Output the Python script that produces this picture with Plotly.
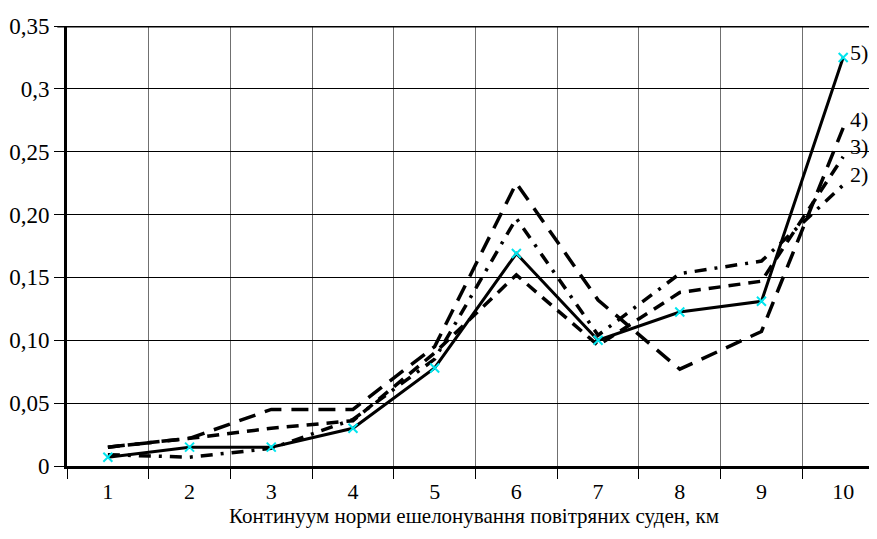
import plotly.graph_objects as go

x_vals = [1, 2, 3, 4, 5, 6, 7, 8, 9, 10]
x_labels = ["1", "2", "3", "4", "5", "6", "7", "8", "9", "10"]

series_5 = [0.007, 0.015, 0.015, 0.030, 0.078, 0.169, 0.100, 0.1225, 0.131, 0.325]
series_4 = [0.015, 0.022, 0.045, 0.045, 0.095, 0.225, 0.132, 0.077, 0.107, 0.269]
series_3 = [0.015, 0.022, 0.030, 0.036, 0.090, 0.152, 0.096, 0.138, 0.147, 0.246]
series_2 = [0.009, 0.007, 0.014, 0.037, 0.085, 0.197, 0.104, 0.153, 0.163, 0.2235]

y_tickvals = [0, 0.05, 0.10, 0.15, 0.20, 0.25, 0.30, 0.35]
y_ticktext = ["0", "0,05", "0,10", "0,15", "0,20", "0,25", "0,3", "0,35"]

end_labels = ["5)", "4)", "3)", "2)"]
end_label_y = [0.3286, 0.276, 0.254, 0.232]

x_title = "Континуум норми ешелонування повітряних суден, км"

FONT = "Liberation Serif"

fig = go.Figure()

fig.add_trace(go.Scatter(x=x_vals, y=series_2, mode="lines",
                         line=dict(color="black", width=3.5, dash="12px,8px,3px,8px"),
                         showlegend=False))
fig.add_trace(go.Scatter(x=x_vals, y=series_3, mode="lines",
                         line=dict(color="black", width=3.5, dash="12px,8px"),
                         showlegend=False))
fig.add_trace(go.Scatter(x=x_vals, y=series_4, mode="lines",
                         line=dict(color="black", width=3.5, dash="17px,10px"),
                         showlegend=False))
fig.add_trace(go.Scatter(x=x_vals, y=series_5, mode="lines+markers",
                         line=dict(color="black", width=3),
                         marker=dict(symbol="x-thin", size=9, color="#00e5ee",
                                     line=dict(color="#00e5ee", width=2)),
                         showlegend=False))

for lab, yv in zip(end_labels, end_label_y):
    fig.add_annotation(x=10, y=yv, text=lab, showarrow=False, xanchor="left",
                       xshift=5, font=dict(family=FONT, size=22, color="black"))

fig.add_annotation(x=0.5025, xref="paper", y=0, yref="paper", yshift=-50,
                   text=x_title, showarrow=False, xanchor="center", yanchor="middle",
                   font=dict(family=FONT, size=21, color="black"))

fig.add_shape(type="line", xref="paper", yref="y", x0=-0.012, x1=1, y0=0.35, y1=0.35,
              line=dict(color="black", width=3))

# page body has an 8px default margin; size the figure so the plot lands where the reference has it
fig.update_layout(
    width=869, height=523,
    margin=dict(l=59, r=0, t=18, b=65, autoexpand=False),
    plot_bgcolor="white", paper_bgcolor="white",
    font=dict(family=FONT, size=20, color="black"),
)

fig.update_xaxes(
    range=[0.5, 10.414], automargin=False,
    tickmode="array", tickvals=x_vals, ticktext=x_labels,
    ticks="", showgrid=False, zeroline=False,
    showline=True, linecolor="black", linewidth=3,
    ticklabelstandoff=4,
    tickfont=dict(family=FONT, size=22),
    minor=dict(tick0=0.5, dtick=1, ticks="outside", ticklen=10, tickcolor="black",
               tickwidth=1, showgrid=True, gridcolor="#707070", gridwidth=1.3),
)

fig.update_yaxes(
    range=[0, 0.35], automargin=False,
    tickmode="array", tickvals=y_tickvals, ticktext=y_ticktext,
    ticks="outside", ticklen=10, tickcolor="black", tickwidth=1,
    showgrid=True, gridcolor="black", gridwidth=1.2, zeroline=False,
    showline=True, linecolor="black", linewidth=3,
    tickfont=dict(family=FONT, size=23),
)

fig.write_html("out.html")
